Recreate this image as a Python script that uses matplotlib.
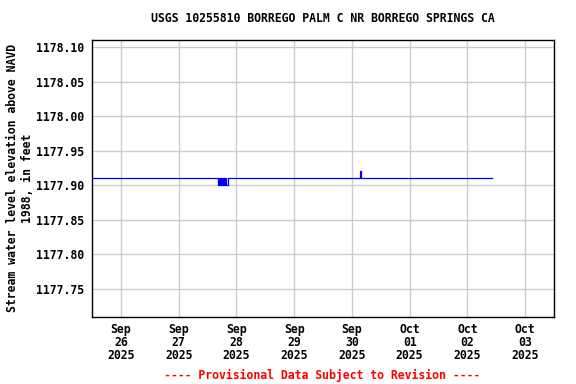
import matplotlib

matplotlib.use("Agg")
import matplotlib.pyplot as plt
import matplotlib.dates as mdates
import numpy as np

# gage height readings (step changes), feet above NAVD 1988
times = [
    "2025-09-25 12:00", "2025-09-27 16:30", "2025-09-27 16:45", "2025-09-27 17:15",
    "2025-09-27 17:30", "2025-09-27 18:00", "2025-09-27 18:15", "2025-09-27 19:00",
    "2025-09-27 19:15", "2025-09-27 19:45", "2025-09-27 20:30", "2025-09-30 03:30",
    "2025-09-30 03:45", "2025-10-02 10:15",
]
values = [
    1177.91, 1177.90, 1177.91, 1177.90,
    1177.91, 1177.90, 1177.91, 1177.90,
    1177.91, 1177.90, 1177.91, 1177.92,
    1177.91, 1177.91,
]

y_ticks = [1177.75, 1177.80, 1177.85, 1177.90, 1177.95, 1178.00, 1178.05, 1178.10]
x_days = ["2025-09-26", "2025-09-27", "2025-09-28", "2025-09-29",
          "2025-09-30", "2025-10-01", "2025-10-02", "2025-10-03"]

title = "USGS 10255810 BORREGO PALM C NR BORREGO SPRINGS CA"
ylabel = "Stream water level elevation above NAVD\n1988, in feet"
note = "---- Provisional Data Subject to Revision ----"

plt.rcParams.update({
    "font.family": "DejaVu Sans Mono",
    "font.size": 8.3,
    "font.weight": "bold",
})

fig = plt.figure(figsize=(5.76, 3.84), dpi=100)
ax = fig.add_axes([92 / 576, 1 - 317 / 384, 462 / 576, 277 / 384])

t = np.array(times, dtype="datetime64[m]")
ax.plot(t, values, color="#0000ff", linewidth=0.9, drawstyle="steps-post")

ax.set_xlim(np.datetime64("2025-09-25T12:00"), np.datetime64("2025-10-03T12:00"))
ax.set_ylim(1177.7095, 1178.1101)

ax.set_yticks(y_ticks)
ax.set_yticklabels([f"{v:.2f}" for v in y_ticks])
xd = np.array(x_days, dtype="datetime64[m]")
ax.set_xticks(xd)
ax.set_xticklabels([mdates.num2date(mdates.date2num(d)).strftime("%b\n%d\n%Y") for d in xd],
                   linespacing=1.0)

ax.grid(True, color="#cccccc", linewidth=1.0)
ax.set_axisbelow(True)
ax.tick_params(axis="x", length=0, pad=4, labelsize=8.3)
ax.tick_params(axis="y", length=0, pad=6, labelsize=8.3)
for s in ax.spines.values():
    s.set_color("black")
    s.set_linewidth(1.0)

fig.text(323 / 576, 1 - 19 / 384, title, ha="center", va="center", fontsize=8.3, weight="bold")
fig.text(20 / 576, 1 - 178 / 384, ylabel, ha="center", va="center", rotation=90,
         fontsize=8.3, weight="bold", linespacing=1.2)
fig.text(322 / 576, 1 - 375 / 384, note, ha="center", va="center", fontsize=8.3,
         weight="bold", color="red")

fig.savefig("out.png", dpi=100)
